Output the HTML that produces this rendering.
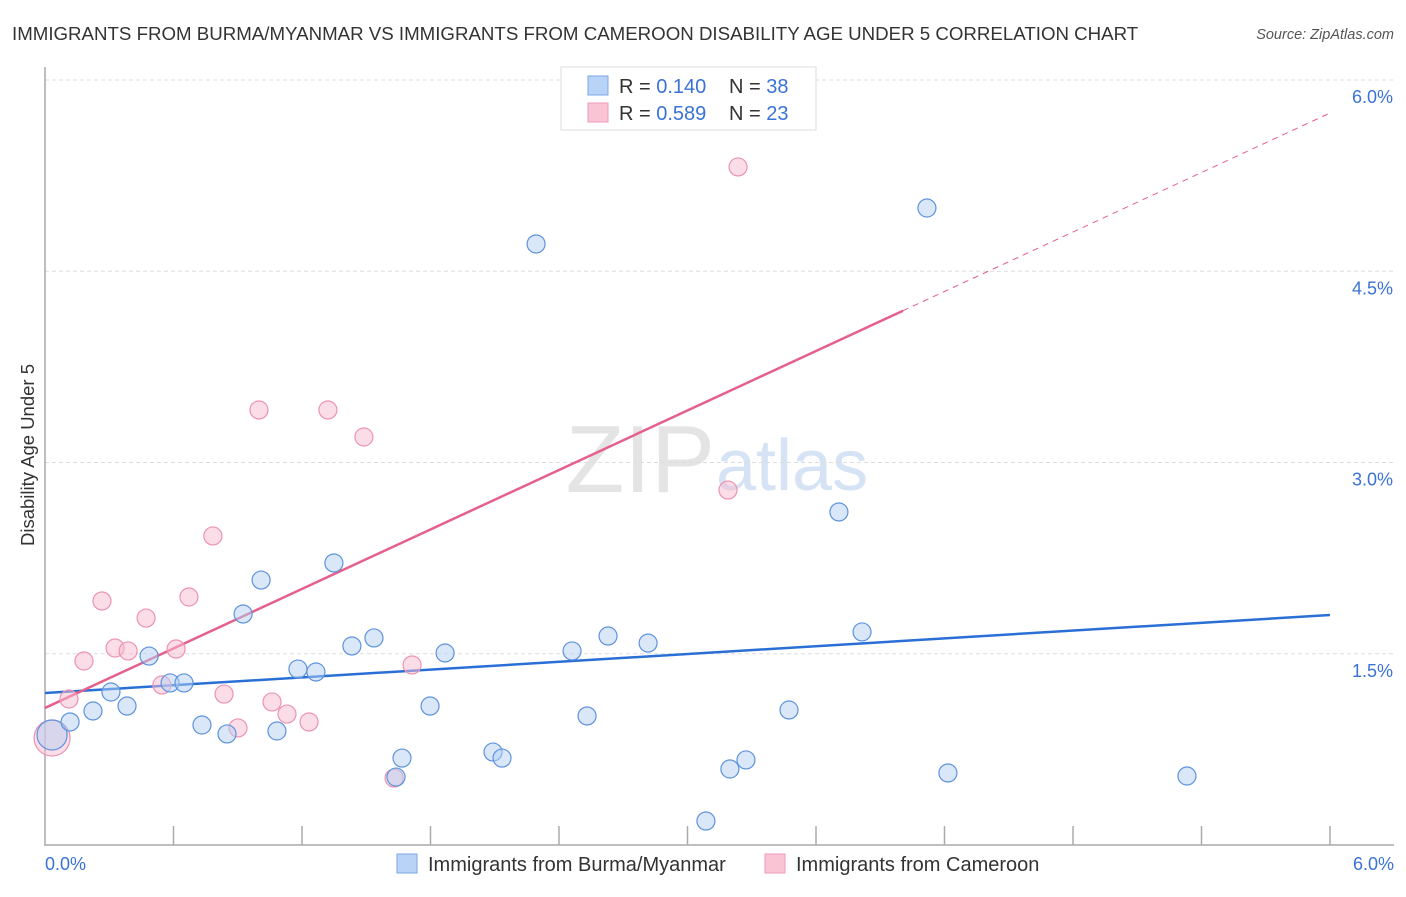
<!DOCTYPE html>
<html><head><meta charset="utf-8"><style>
body{margin:0;background:#fff;font-family:"Liberation Sans",sans-serif;}
svg text{font-family:"Liberation Sans",sans-serif;}
</style></head><body>
<svg id="chart" width="1406" height="892" viewBox="0 0 1406 892" xmlns="http://www.w3.org/2000/svg">
<text x="12" y="40" font-size="18.7" fill="#333">IMMIGRANTS FROM BURMA/MYANMAR VS IMMIGRANTS FROM CAMEROON DISABILITY AGE UNDER 5 CORRELATION CHART</text>
<text x="1394" y="39" font-size="14.5" fill="#555" font-style="italic" text-anchor="end">Source: ZipAtlas.com</text>
<text x="715" y="492" font-size="96" fill="#e4e4e4" text-anchor="end" font-family="Liberation Serif">ZIP</text>
<text x="716" y="490" font-size="72" fill="#d6e3f5">atlas</text>
<g id="grid"></g>
<g id="axes"></g>
<g id="lines"></g>
<g id="pts"></g>
<text transform="translate(34,455) rotate(-90)" font-size="18.5" fill="#333" text-anchor="middle">Disability Age Under 5</text>
<text x="45" y="870" font-size="18" fill="#3a73d6">0.0%</text>
<text x="1394" y="870" font-size="18" fill="#3a73d6" text-anchor="end">6.0%</text>
<g>
<rect x="561" y="67" width="255" height="63" fill="#fff" stroke="#ddd"/>
<rect x="588" y="76" width="20" height="19" fill="#b8d3f5" stroke="#7aa7e6"/>
<rect x="588" y="103" width="20" height="19" fill="#f9c5d5" stroke="#ef9ab5"/>
<text x="619" y="93" font-size="20" fill="#333">R = <tspan fill="#3a73d6">0.140</tspan><tspan x="729">N = </tspan><tspan fill="#3a73d6">38</tspan></text>
<text x="619" y="120" font-size="20" fill="#333">R = <tspan fill="#3a73d6">0.589</tspan><tspan x="729">N = </tspan><tspan fill="#3a73d6">23</tspan></text>
</g>
<g>
<rect x="397" y="854" width="20" height="19" fill="#b8d3f5" stroke="#7aa7e6"/>
<text x="428" y="871" font-size="20" fill="#333">Immigrants from Burma/Myanmar</text>
<rect x="765" y="854" width="20" height="19" fill="#f9c5d5" stroke="#ef9ab5"/>
<text x="796" y="871" font-size="20" fill="#333">Immigrants from Cameroon</text>
</g>
</svg>
<script>
const blueX=[0.033,0.117,0.224,0.308,0.383,0.486,0.584,0.649,0.733,0.850,0.925,1.009,1.083,1.181,1.265,1.349,1.433,1.536,1.667,1.639,1.798,1.868,2.092,2.134,2.293,2.461,2.531,2.629,2.816,3.086,3.198,3.273,3.474,3.707,3.815,4.118,4.216,5.332];
const blueY=[0.863,0.965,1.051,1.2,1.09,1.482,1.271,1.271,0.941,0.871,1.812,2.078,0.894,1.380,1.357,2.212,1.561,1.624,0.682,0.533,1.090,1.506,0.729,0.682,4.714,1.522,1.012,1.639,1.584,0.188,0.596,0.667,1.059,2.612,1.671,4.996,0.565,0.541];
const pinkX=[0.033,0.112,0.182,0.266,0.327,0.388,0.472,0.546,0.612,0.672,0.784,0.836,0.901,0.999,1.060,1.130,1.233,1.321,1.489,1.630,1.714,3.189,3.236];
const pinkY=[0.839,1.145,1.443,1.914,1.545,1.522,1.780,1.255,1.537,1.945,2.424,1.184,0.918,3.412,1.122,1.027,0.965,3.412,3.2,0.525,1.412,2.784,5.318];
const yTicks=[1.5,3.0,4.5,6.0];
const yTickLabels=["1.5%","3.0%","4.5%","6.0%"];
const xTicks=[0.6,1.2,1.8,2.4,3.0,3.6,4.2,4.8,5.4,6.0];
const blueTrend=[1.192,1.804];
const pinkTrend=[1.075,5.741];
const pinkSolidEnd=4.006;

const NS="http://www.w3.org/2000/svg";
const sx=v=>45+v/6*1285;
const sy=v=>845-v*127.5;
function mk(tag,attrs,parent){const e=document.createElementNS(NS,tag);for(const k in attrs)e.setAttribute(k,attrs[k]);parent.appendChild(e);return e;}
const grid=document.getElementById('grid'),axes=document.getElementById('axes'),lines=document.getElementById('lines'),pts=document.getElementById('pts');
yTicks.forEach((t,i)=>{
  const l=mk('line',{x1:45,x2:1394,y1:sy(t),y2:sy(t),stroke:'#ddd','stroke-dasharray':'4,3'},grid);
  
  
  const tx=mk('text',{x:1393,y:sy(t)+23,'font-size':18,fill:'#3a73d6','text-anchor':'end'},grid);
  tx.textContent=yTickLabels[i];
  
  
});
const ya=mk('line',{x1:45,x2:45,y1:67,y2:846,stroke:'#aaa','stroke-width':1.5},axes);


const xa=mk('line',{x1:45,x2:1394,y1:845,y2:845,stroke:'#aaa','stroke-width':1.5},axes);


xTicks.forEach(t=>{
  const l=mk('line',{x1:sx(t),x2:sx(t),y1:826,y2:845,stroke:'#aaa','stroke-width':1.5},axes);
  
  
});
function drawPts(X,Y,fill,stroke,name){
  X.forEach((x,i)=>{
    const r=(i===0)?(name==='pink-point'?18:15):9;
    const c=mk('circle',{cx:sx(x),cy:sy(Y[i]),r:r,fill:fill,'fill-opacity':0.5,stroke:stroke,'stroke-width':1.2},pts);
    
    
  });
}
drawPts(pinkX,pinkY,'#f8bccf','#ec93b0','pink-point');
drawPts(blueX,blueY,'#b3cff3','#5e93dd','blue-point');
const bl=mk('line',{x1:sx(0),y1:sy(blueTrend[0]),x2:sx(6),y2:sy(blueTrend[1]),stroke:'#2a6fd6','stroke-width':2.5},lines);


const slope=(pinkTrend[1]-pinkTrend[0])/6;
const pl=mk('line',{x1:sx(0),y1:sy(pinkTrend[0]),x2:sx(pinkSolidEnd),y2:sy(pinkTrend[0]+slope*pinkSolidEnd),stroke:'#e5608a','stroke-width':2.5},lines);


const pd=mk('line',{x1:sx(pinkSolidEnd),y1:sy(pinkTrend[0]+slope*pinkSolidEnd),x2:sx(6),y2:sy(pinkTrend[1]),stroke:'#e5608a','stroke-width':1,'stroke-dasharray':'6,5'},lines);


</script>
</body></html>
